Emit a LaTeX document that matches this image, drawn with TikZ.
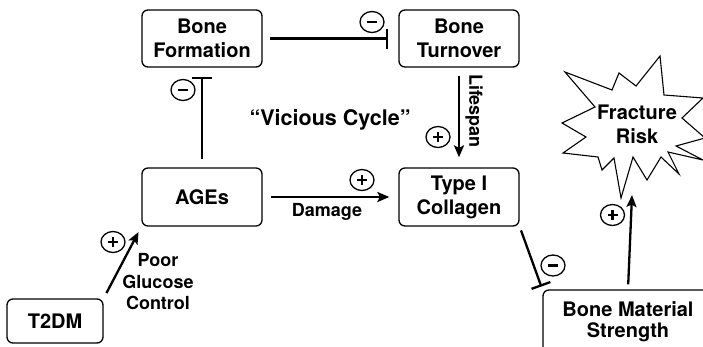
\documentclass[tikz,border=0pt]{standalone}
\usepackage{fontspec}
\setmainfont{TeX Gyre Heros}
\usetikzlibrary{arrows.meta,shapes.geometric}
\tikzset{>=latex}
\tikzset{
  box/.style={draw, rounded corners=6pt, line width=1.3pt, align=center,
    minimum width=120pt, minimum height=57pt, inner sep=0pt,
    font=\fontsize{20}{24}\selectfont\bfseries},
  lbl/.style={align=center, inner sep=0pt, font=\fontsize{18}{21.5}\selectfont\bfseries},
  sgn/.style={draw, ellipse, line width=1.3pt, minimum width=24pt, minimum height=21pt,
    inner sep=0pt, fill=white},
  act/.style={-{Stealth[length=12pt,width=10pt,inset=2.5pt]}, line width=2.3pt},
  inh/.style={-{Bar[width=20pt]}, line width=2.3pt},
}
\newcommand{\mns}{\rule{10pt}{2.5pt}}
\newcommand{\pls}{\rule{10pt}{2.5pt}\llap{\rule[-3.75pt]{2.5pt}{10pt}\hspace{3.75pt}}}

\begin{document}
\begin{tikzpicture}[x=1pt,y=-1pt]

\clip (0,0) rectangle (703,346);

\node[box] (form) at (202,38.5) {Bone\\Formation};
\node[box] (turn) at (459,38.5) {Bone\\Turnover};
\node[box, minimum height=58pt] (ages) at (202,197) {AGEs};
\node[box, minimum height=58pt] (coll) at (459,197) {Type I\\Collagen};
\node[box, minimum width=96pt, minimum height=44pt] (t2dm) at (55,321) {T2DM};
\node[box, minimum width=170pt, minimum height=64pt, font=\fontsize{20}{21}\selectfont\bfseries] (bms) at (628,322) {Bone Material\\Strength};

\draw[line width=1.1pt, line join=miter] (565,72)--(612,90)--(619,73)--(636,86)--(660,56)--(664,95)
  --(703,98)--(682,118)--(705,138)--(676,146)--(703,160)--(668,152)--(679,174)--(661,157)
  --(647,180)--(633,157)--(621,198)--(614,158)--(602,170)--(598,157)--(563,153)--(586,137)
  --(562,123)--(595,107)--cycle;
\node[box, draw=none] (frac) at (637,124) {Fracture\\Risk};
\coordinate (riskTip) at (632,195);

\draw[inh, shorten <=7pt, shorten >=10pt] (form) -- (turn);
\draw[inh, shorten <=8pt, shorten >=9pt] (ages) -- (form);
\draw[act, shorten <=8pt, shorten >=10pt] (turn) -- (coll);
\draw[act, shorten <=8pt, shorten >=9pt] (ages) -- (coll);
\draw[act, shorten <=6pt, shorten >=6pt] (t2dm.north east) -- (ages.south west);
\draw[inh, shorten <=4pt, shorten >=3pt] (coll.south east) -- (bms.north west);
\draw[act, shorten <=5pt] (bms.north) -- (riskTip);

\node[sgn] (m1) at (372,22) {\mns};
\node[sgn] (m2) at (183,90) {\mns};
\node[sgn] (m3) at (553,265.5) {\mns};
\node[sgn] (p1) at (438,137) {\pls};
\node[sgn] (p2) at (362,180) {\pls};
\node[sgn] (p3) at (113,242) {\pls};
\node[sgn] (p4) at (612.5,215) {\pls};

\node[lbl, anchor=base] (dmg) at (327,216.5) {Damage};
\node[lbl, rotate=-90] (life) at (474,111) {Lifespan};
\node[lbl] (poor) at (158,282) {Poor\\Glucose\\Control};
\node[lbl, anchor=base, font=\fontsize{21.5}{24}\selectfont\bfseries] (vc) at (330,125.5) {``Vicious Cycle''};

\end{tikzpicture}
\end{document}
